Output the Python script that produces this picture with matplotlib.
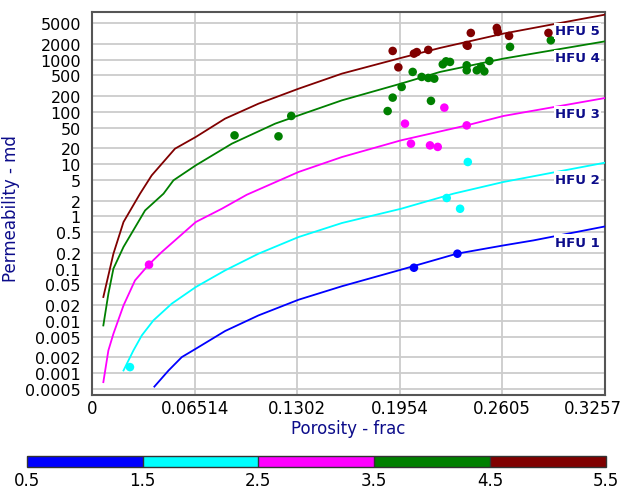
import matplotlib
matplotlib.use("Agg")
import matplotlib.pyplot as plt
import matplotlib.transforms as mtransforms
from matplotlib.colors import ListedColormap, BoundaryNorm
from matplotlib.cm import ScalarMappable

# HFU trend lines (porosity frac, permeability md)
hfu1_phi = [0.0396, 0.0486, 0.057, 0.0659, 0.0845, 0.1057, 0.1312, 0.1587, 0.1962, 0.2316, 0.2612, 0.2803, 0.3258]
hfu1_k = [0.00055, 0.00112, 0.00202, 0.00292, 0.00638, 0.0127, 0.0254, 0.046, 0.0953, 0.193, 0.278, 0.347, 0.643]
hfu2_phi = [0.020, 0.0263, 0.0316, 0.039, 0.0506, 0.0659, 0.0845, 0.1057, 0.1312, 0.1587, 0.1962, 0.2294, 0.2612, 0.3258]
hfu2_k = [0.00112, 0.00271, 0.00525, 0.0102, 0.0213, 0.0444, 0.0924, 0.193, 0.403, 0.747, 1.4, 2.72, 4.56, 10.7]
hfu3_phi = [0.0072, 0.0104, 0.0136, 0.020, 0.0273, 0.036, 0.0443, 0.0659, 0.0824, 0.0983, 0.1312, 0.1587, 0.1962, 0.2379, 0.2612, 0.3258]
hfu3_k = [0.00067, 0.00271, 0.00566, 0.0197, 0.0594, 0.119, 0.208, 0.78, 1.4, 2.6, 7.1, 13.7, 28.6, 55.3, 83.7, 185]
hfu4_phi = [0.0072, 0.0104, 0.0136, 0.020, 0.0337, 0.0454, 0.0517, 0.0659, 0.0888, 0.1163, 0.1312, 0.1587, 0.1962, 0.221, 0.2612, 0.3258]
hfu4_k = [0.00816, 0.033, 0.1, 0.26, 1.3, 2.72, 4.9, 9.5, 24.7, 59.7, 86, 167, 349, 584, 1050, 2250]
hfu5_phi = [0.0072, 0.0136, 0.020, 0.0305, 0.0379, 0.0527, 0.0659, 0.0845, 0.1057, 0.1312, 0.1587, 0.1962, 0.221, 0.2612, 0.2951, 0.3258]
hfu5_k = [0.0286, 0.193, 0.78, 2.72, 6.1, 19.8, 33.2, 74.5, 144, 279, 542, 1083, 1682, 3164, 4920, 7310]

# core samples
pt_phi = [0.2044, 0.232,
          0.0241, 0.2252, 0.2337, 0.2386,
          0.0362, 0.1987, 0.2025, 0.2146, 0.2195, 0.2237, 0.2379,
          0.0905, 0.1184, 0.1265, 0.1877, 0.1909, 0.1966, 0.2036, 0.2093, 0.2135, 0.2173,
          0.2152, 0.2227, 0.2248, 0.2273, 0.2379, 0.2379, 0.2443, 0.247, 0.2491, 0.2523,
          0.2654, 0.2913,
          0.1909, 0.1945, 0.2044, 0.2062, 0.2135, 0.2379, 0.2385, 0.2405, 0.257, 0.2576,
          0.2648, 0.2898]
pt_k = [0.104, 0.193,
        0.0013, 2.25, 1.4, 11.0,
        0.119, 59.7, 24.7, 22.9, 21.4, 121, 55.3,
        35.6, 34.1, 83.8, 104, 188, 301, 584, 468, 448, 434,
        163, 816, 931, 907, 782, 627, 627, 728, 600, 946,
        1760, 2354,
        1473, 715, 1309, 1400, 1542, 1914, 1850, 3258, 4060, 3410,
        2860, 3260]
pt_hfu = [1, 1,
          2, 2, 2, 2,
          3, 3, 3, 3, 3, 3, 3,
          4, 4, 4, 4, 4, 4, 4, 4, 4, 4,
          4, 4, 4, 4, 4, 4, 4, 4, 4, 4,
          4, 4,
          5, 5, 5, 5, 5, 5, 5, 5, 5, 5,
          5, 5]

hfu_colors = ["#0000ff", "#00ffff", "#ff00ff", "#008000", "#800000"]
hfu_names = ["HFU 1", "HFU 2", "HFU 3", "HFU 4", "HFU 5"]
label_k = [0.32, 5.1, 92.8, 1083, 3560]

xticks = [0, 0.06514, 0.1302, 0.1954, 0.2605, 0.3257]
xlabels = ["0", "0.06514", "0.1302", "0.1954", "0.2605", "0.3257"]
yticks = [5000, 2000, 1000, 500, 200, 100, 50, 20, 10, 5, 2, 1, 0.5, 0.2, 0.1,
          0.05, 0.02, 0.01, 0.005, 0.002, 0.001, 0.0005]
ylabels = ["5000", "2000", "1000", "500", "200", "100", "50", "20", "10", "5", "2", "1",
           "0.5", "0.2", "0.1", "0.05", "0.02", "0.01", "0.005", "0.002", "0.001", "0.0005"]
cbar_bounds = [0.5, 1.5, 2.5, 3.5, 4.5, 5.5]

navy = "#0c0c8a"
plt.rcParams["font.family"] = ["DejaVu Sans"]

fig = plt.figure(figsize=(6.27, 4.89), dpi=100)
ax = fig.add_axes([92 / 627, 1 - 396 / 489, 513 / 627, 383 / 489])

curves = [(hfu1_phi, hfu1_k), (hfu2_phi, hfu2_k), (hfu3_phi, hfu3_k),
          (hfu4_phi, hfu4_k), (hfu5_phi, hfu5_k)]
for (px, pk), col in zip(curves, hfu_colors):
    ax.plot(px, pk, color=col, lw=1.3, zorder=3)

cmap = ListedColormap(hfu_colors)
norm = BoundaryNorm(cbar_bounds, cmap.N)
ax.scatter(pt_phi, pt_k, c=pt_hfu, cmap=cmap, norm=norm, s=38, zorder=4,
           edgecolors="none")

ax.set_yscale("log")
ax.set_xlim(0, 0.3257)
ax.set_ylim(0.00038, 8200)
ax.set_xticks(xticks)
ax.set_xticklabels(xlabels)
ax.set_yticks(yticks)
ax.set_yticklabels(ylabels)
ax.yaxis.set_minor_locator(matplotlib.ticker.NullLocator())
ax.tick_params(axis="x", length=0, labelsize=12, pad=3)
ax.tick_params(axis="y", length=0, labelsize=11.5, pad=8)
ax.grid(True, color="#cccccc", lw=1.3, zorder=0)
ax.set_axisbelow(True)
for s in ax.spines.values():
    s.set_color("#555555")
    s.set_linewidth(1.5)

# last x label sits pulled in from the figure edge
last = ax.get_xticklabels()[-1]
last.set_transform(last.get_transform() +
                   mtransforms.ScaledTranslation(-12 / 100, 0, fig.dpi_scale_trans))

for name, yk in zip(hfu_names, label_k):
    ax.annotate(name, xy=(0.99, yk), xycoords=("axes fraction", "data"),
                ha="right", va="center", fontsize=9.5, fontweight="bold",
                color=navy, zorder=5,
                bbox=dict(facecolor="white", edgecolor="none", pad=1.0))

ax.set_xlabel("Porosity - frac", color=navy, fontsize=12, labelpad=1)
ax.set_ylabel("Permeability - md", color=navy, fontsize=12)
ax.yaxis.set_label_coords(-0.14, 0.49)

cax = fig.add_axes([26.7 / 627, 1 - 467.7 / 489, 579.3 / 627, 11 / 489])
sm = ScalarMappable(norm=norm, cmap=cmap)
cb = fig.colorbar(sm, cax=cax, orientation="horizontal", ticks=cbar_bounds,
                  drawedges=True)
cb.ax.set_xticklabels(["0.5", "1.5", "2.5", "3.5", "4.5", "5.5"])
cb.ax.tick_params(length=0, labelsize=12, pad=3)
cb.outline.set_edgecolor("#333333")
cb.outline.set_linewidth(1.0)
cb.dividers.set_color("#333333")
cb.dividers.set_linewidth(1.0)

fig.savefig("out.png", dpi=100)
